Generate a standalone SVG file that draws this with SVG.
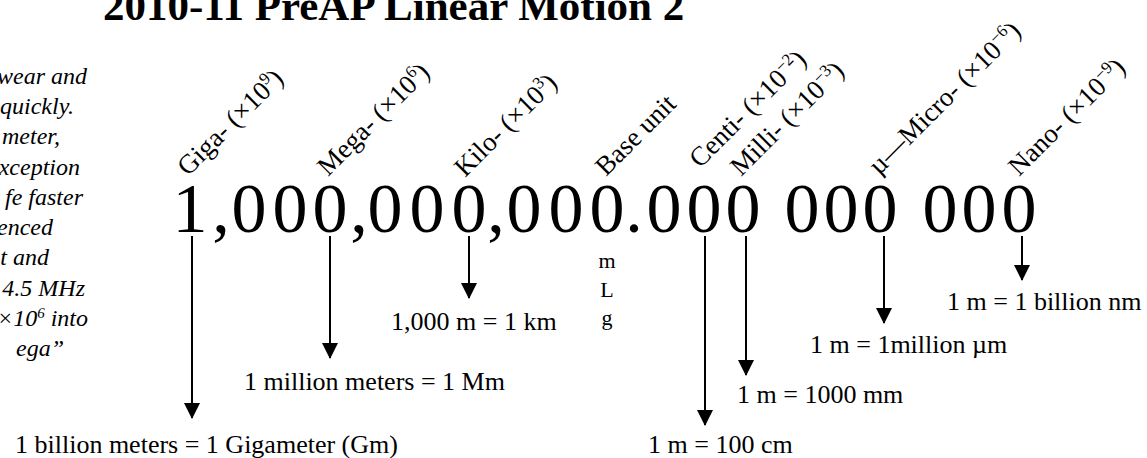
<svg xmlns="http://www.w3.org/2000/svg" width="1147" height="458" viewBox="0 0 1147 458">
<defs>
<marker id="ah" markerUnits="userSpaceOnUse" markerWidth="16" markerHeight="16" refX="15" refY="8" orient="auto">
<path d="M0,0 L16,8 L0,16 z" fill="#000"/>
</marker>
<style>
.t{font-family:"Liberation Serif","Times New Roman",serif;fill:#000}
.title{font-size:43px;font-weight:bold}
.side{font-size:24px;font-style:italic;text-anchor:end}
.big{font-size:70px;text-anchor:middle}
.lab{font-size:27px}
.val{font-size:26px}
.unit{font-size:22px;text-anchor:middle}
.conn line{stroke:#000;stroke-width:2;marker-end:url(#ah)}
</style>
</defs>
<rect width="1147" height="458" fill="#fff"/>
<text id="title" class="t title" x="103" y="20">2010-11 PreAP Linear Motion 2</text>
<g id="side-text" class="t side">
<text x="87" y="84">wear and</text>
<text x="74" y="114">quickly.</text>
<text x="60" y="144">meter,</text>
<text x="80" y="175">xception</text>
<text x="83" y="205">fe faster</text>
<text x="53" y="235">enced</text>
<text x="49" y="265">t and</text>
<text x="85" y="296">4.5 MHz</text>
<text x="88" y="326">×10<tspan dy="-8" font-size="15">6</tspan><tspan dy="8"> into</tspan></text>
<text x="64" y="356">ega”</text>
</g>
<g id="number">
<text class="t big" y="232" x="190 221 249 290 330 359 385 427 469 496 524 566 607 634 664 704 743 772 802 841 880 910 940 979 1019">1,000,000,000.000 000 000</text>
</g>
<g id="giga"><text class="t lab" transform="translate(188,177) rotate(-45)">Giga- (×10<tspan dy="-10" font-size="17">9</tspan><tspan dy="10">)</tspan></text>
<text class="t val" x="15" y="453">1 billion meters = 1 Gigameter (Gm)</text></g>
<g id="mega"><text class="t lab" transform="translate(328,177) rotate(-45)">Mega- (×10<tspan dy="-10" font-size="17">6</tspan><tspan dy="10">)</tspan></text>
<text class="t val" x="244" y="390">1 million meters = 1 Mm</text></g>
<g id="kilo"><text class="t lab" transform="translate(465,178) rotate(-45)">Kilo- (×10<tspan dy="-10" font-size="17">3</tspan><tspan dy="10">)</tspan></text>
<text class="t val" x="391" y="330">1,000 m = 1 km</text></g>
<g id="base"><text class="t lab" transform="translate(606,177) rotate(-45)">Base unit</text>
<text class="t unit" x="607" y="268">m</text>
<text class="t unit" x="607" y="297">L</text>
<text class="t unit" x="607" y="325">g</text></g>
<g id="centi"><text class="t lab" transform="translate(700,169) rotate(-45)">Centi- (×10<tspan dy="-10" font-size="17">−2</tspan><tspan dy="10">)</tspan></text>
<text class="t val" x="648" y="453">1 m = 100 cm</text></g>
<g id="milli"><text class="t lab" transform="translate(741,177) rotate(-45)">Milli- (×10<tspan dy="-10" font-size="17">−3</tspan><tspan dy="10">)</tspan></text>
<text class="t val" x="737" y="403">1 m = 1000 mm</text></g>
<g id="micro"><text class="t lab" transform="translate(879,176) rotate(-45)">µ—Micro- (×10<tspan dy="-10" font-size="17">−6</tspan><tspan dy="10">)</tspan></text>
<text class="t val" x="810" y="353">1 m = 1million µm</text></g>
<g id="nano"><text class="t lab" transform="translate(1019,177) rotate(-45)">Nano- (×10<tspan dy="-10" font-size="17">−9</tspan><tspan dy="10">)</tspan></text>
<text class="t val" x="947" y="310">1 m = 1 billion nm</text></g>
<g id="connectors" class="conn">
<line x1="192" y1="236" x2="192" y2="418"/>
<line x1="330" y1="236" x2="330" y2="358"/>
<line x1="469" y1="236" x2="469" y2="298"/>
<line x1="705" y1="236" x2="705" y2="425"/>
<line x1="746" y1="236" x2="746" y2="375"/>
<line x1="884" y1="236" x2="884" y2="323"/>
<line x1="1022" y1="236" x2="1022" y2="280"/>
</g>
</svg>
